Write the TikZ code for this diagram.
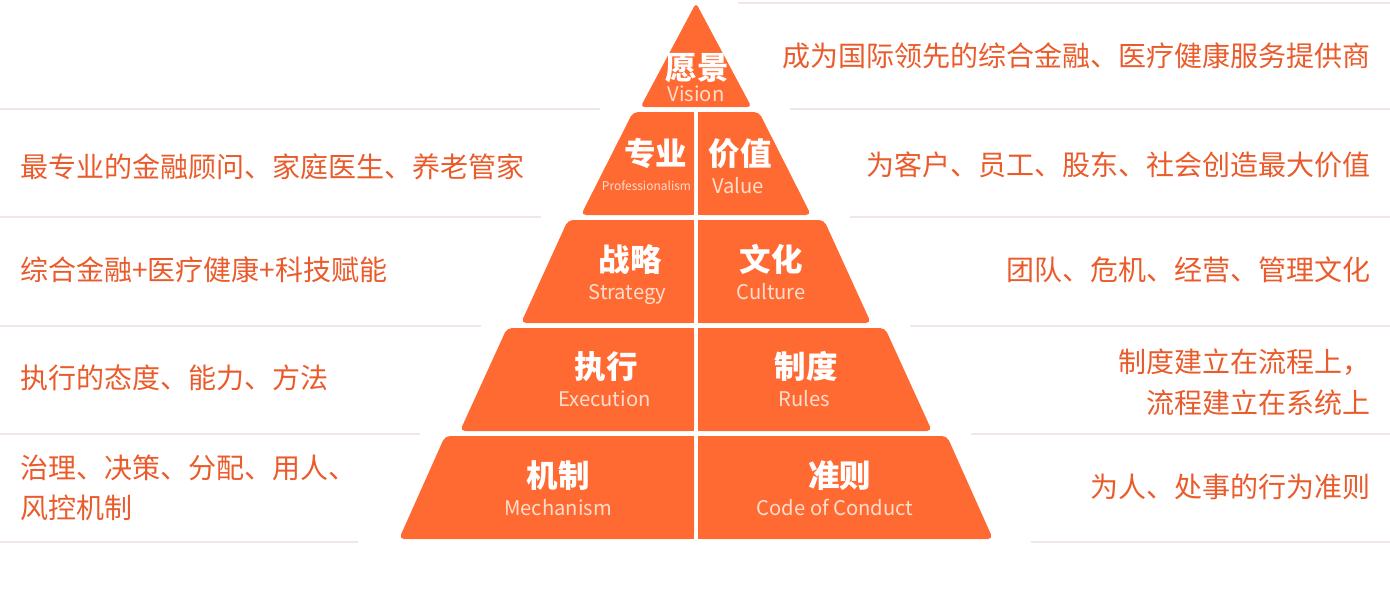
\documentclass[tikz,border=0pt]{standalone}
\usepackage{fontspec}
\setmainfont{Noto Sans CJK SC}
\definecolor{pyr}{HTML}{FF6A33}
\definecolor{sidetxt}{HTML}{EA5B2B}
\definecolor{subtxt}{HTML}{FFDDCC}
\definecolor{sepcol}{HTML}{F2E7E7}
\tikzset{
  tier/.style={fill=pyr, draw=none},
  ttl/.style={text=white, font=\fontsize{31.5}{36}\selectfont\bfseries, inner sep=0pt, anchor=center},
  sub/.style={text=subtxt, font=\fontsize{20.2}{24}\selectfont, inner sep=0pt, anchor=base},
  subsmall/.style={text=subtxt, font=\fontsize{12}{14}\selectfont, inner sep=0pt, anchor=base},
  side/.style={text=sidetxt, font=\fontsize{28}{40.5}\selectfont, inner sep=0pt},
  sepline/.style={draw=sepcol, line width=2pt},
}
\newcommand{\tierpair}[4]{%
  \fill[tier, rounded corners=5pt] (694,#1) -- ({696-#3},#1) -- ({696-#4},#2) -- (694,#2) -- cycle;
  \fill[tier] (670,#1) rectangle (694,#2);
  \fill[tier, rounded corners=5pt] (698,#1) -- ({696+#3},#1) -- ({696+#4},#2) -- (698,#2) -- cycle;
  \fill[tier] (698,#1) rectangle (722,#2);
}
\begin{document}
\begin{tikzpicture}[x=1pt,y=-1pt]
\useasboundingbox (0,0) rectangle (1390,600);
% separator lines
\draw[sepline] (738,3) -- (1390,3);
\draw[sepline] (0,109) -- (600,109);
\draw[sepline] (790,109) -- (1390,109);
\draw[sepline] (0,217) -- (541,217);
\draw[sepline] (850,217) -- (1390,217);
\draw[sepline] (0,326) -- (481,326);
\draw[sepline] (910,326) -- (1390,326);
\draw[sepline] (0,433.5) -- (420,433.5);
\draw[sepline] (971,433.5) -- (1390,433.5);
\draw[sepline] (0,541.5) -- (358,541.5);
\draw[sepline] (1031,541.5) -- (1390,541.5);
% pyramid
\fill[tier, rounded corners=4pt] (696,3) -- (751.5,107) -- (640.5,107) -- cycle;
\tierpair{112}{215}{63}{115}
\tierpair{220}{323}{128}{175}
\tierpair{328}{431}{189}{236}
\tierpair{436}{539}{251}{297}
% pyramid labels
\node[ttl] (t1) at (697,68) {愿景};
\node[sub] (s1) at (696,101) {Vision};
\node[ttl] (t2l) at (655.5,154) {专业};
\node[subsmall] (s2l) at (646.5,190.5) {Professionalism};
\node[ttl] (t2r) at (740,154) {价值};
\node[sub] (s2r) at (738,193) {Value};
\node[ttl] (t3l) at (630,259.5) {战略};
\node[sub] (s3l) at (627.5,299) {Strategy};
\node[ttl] (t3r) at (771.3,259.5) {文化};
\node[sub] (s3r) at (771,299) {Culture};
\node[ttl] (t4l) at (606,366.5) {执行};
\node[sub] (s4l) at (604.5,406) {Execution};
\node[ttl] (t4r) at (806,366.5) {制度};
\node[sub] (s4r) at (804,406) {Rules};
\node[ttl] (t5l) at (558,476) {机制};
\node[sub] (s5l) at (558,515.7) {Mechanism};
\node[ttl] (t5r) at (839.5,476) {准则};
\node[sub] (s5r) at (835,515.7) {Code of Conduct};
% right texts
\node[side, anchor=east] (r1) at (1371,55.5) {成为国际领先的综合金融、医疗健康服务提供商};
\node[side, anchor=east] (r2) at (1371,165) {为客户、员工、股东、社会创造最大价值};
\node[side, anchor=east] (r3) at (1371,270) {团队、危机、经营、管理文化};
\node[side, anchor=east, align=right] (r4) at (1371,382.5) {制度建立在流程上，\\流程建立在系统上};
\node[side, anchor=east] (r5) at (1371,487) {为人、处事的行为准则};
% left texts
\node[side, anchor=west] (l2) at (20,167) {最专业的金融顾问、家庭医生、养老管家};
\node[side, anchor=west] (l3) at (20,270) {综合金融+医疗健康+科技赋能};
\node[side, anchor=west] (l4) at (20,378) {执行的态度、能力、方法};
\node[side, anchor=west, align=left] (l5) at (20,488) {治理、决策、分配、用人、\\风控机制};
\end{tikzpicture}
\end{document}
